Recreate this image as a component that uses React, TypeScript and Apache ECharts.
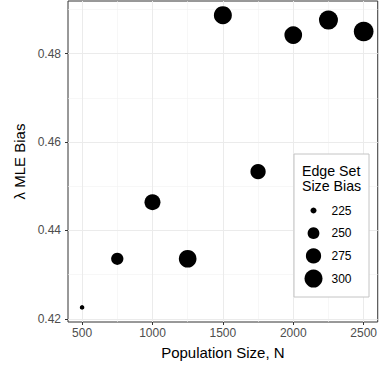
import React, { useEffect, useRef } from "react";
import * as echarts from "echarts";

const popN = [500, 750, 1000, 1250, 1500, 1750, 2000, 2250, 2500];
const mleBias = [0.4226, 0.4336, 0.4464, 0.4336, 0.4887, 0.4533, 0.4842, 0.4876, 0.485];
const edgeBias = [222, 253, 281, 297, 300, 275, 297, 310, 318];

const xMajor = [500, 1000, 1500, 2000, 2500];
const xMinor = [750, 1250, 1750, 2250];
const yMajor = [0.42, 0.44, 0.46, 0.48];
const yMinor = [0.43, 0.45, 0.47, 0.49];
const legendBreaks = [225, 250, 275, 300];
const legendTitle = ["Edge Set", "Size Bias"];

const FONT = "'Liberation Sans', Arial, Helvetica, sans-serif";
const sizeScale = (v: number) => 2 + 16 * Math.sqrt(Math.max(0, v - 220) / 80);

export default function App() {
  const ref = useRef<HTMLDivElement>(null);
  useEffect(() => {
    if (!ref.current) return;
    const chart = echarts.init(ref.current, null, { renderer: "svg" });
    const gridLeft = 68, gridTop = 1, gridRight = 2, gridBottom = 45;
    const lx = 294, ly = 154, lw = 75, lh = 143;
    const graphics: any[] = [
      {
        type: "rect",
        shape: { x: lx, y: ly, width: lw, height: lh },
        style: { fill: "#ffffff", stroke: "#c4c4c4", lineWidth: 1 },
        z: 50,
      },
    ];
    legendTitle.forEach((t, i) => {
      graphics.push({
        type: "text",
        x: lx + 8,
        y: ly + 17 + i * 15,
        style: { text: t, font: `14.2px ${FONT}`, fill: "#000", verticalAlign: "middle" },
        z: 51,
      });
    });
    legendBreaks.forEach((b, i) => {
      const cy = ly + 56.5 + i * 22.7;
      graphics.push({
        type: "circle",
        shape: { cx: lx + 19.5, cy, r: sizeScale(b) / 2 },
        style: { fill: "#000" },
        z: 51,
      });
      graphics.push({
        type: "text",
        x: lx + 37.5,
        y: cy,
        style: { text: String(b), font: `12px ${FONT}`, fill: "#000", verticalAlign: "middle" },
        z: 51,
      });
    });

    const option: any = {
      animation: false,
      backgroundColor: "#ffffff",
      textStyle: { fontFamily: FONT },
      grid: {
        left: gridLeft,
        top: gridTop,
        right: gridRight,
        bottom: gridBottom,
        show: true,
        borderColor: "#333333",
        borderWidth: 1,
        backgroundColor: "#ffffff",
      },
      xAxis: [
        {
          type: "value",
          min: 400,
          max: 2600,
          position: "bottom",
          name: "Population Size, N",
          nameLocation: "middle",
          nameGap: 23,
          nameTextStyle: { fontSize: 15, color: "#000", fontFamily: FONT },
          axisLine: { show: false },
          axisTick: { show: true, length: 3, lineStyle: { color: "#333333" }, customValues: xMajor },
          axisLabel: {
            customValues: xMajor,
            margin: 5,
            fontSize: 12,
            color: "#4d4d4d",
            fontFamily: FONT,
            formatter: (v: number) => String(v),
          },
          splitLine: { show: true, lineStyle: { color: "#ebebeb", width: 1 } },
          z: 1,
        },
        {
          type: "value",
          min: 400,
          max: 2600,
          position: "top",
          axisLine: { show: false },
          axisTick: { show: false, customValues: xMinor },
          axisLabel: { show: false, customValues: xMinor },
          splitLine: { show: true, lineStyle: { color: "#f2f2f2", width: 0.6 } },
          z: 0,
        },
      ],
      yAxis: [
        {
          type: "value",
          min: 0.4193,
          max: 0.4919,
          position: "left",
          name: "λ MLE Bias",
          nameLocation: "middle",
          nameGap: 35,
          nameRotate: 90,
          nameTextStyle: { fontSize: 15, color: "#000", fontFamily: FONT },
          axisLine: { show: false },
          axisTick: { show: true, length: 3, lineStyle: { color: "#333333" }, customValues: yMajor },
          axisLabel: {
            customValues: yMajor,
            margin: 7,
            fontSize: 12,
            color: "#4d4d4d",
            fontFamily: FONT,
            formatter: (v: number) => v.toFixed(2),
          },
          splitLine: { show: true, lineStyle: { color: "#ebebeb", width: 1 } },
          z: 1,
        },
        {
          type: "value",
          min: 0.4193,
          max: 0.4919,
          position: "right",
          axisLine: { show: false },
          axisTick: { show: false, customValues: yMinor },
          axisLabel: { show: false, customValues: yMinor },
          splitLine: { show: true, lineStyle: { color: "#f2f2f2", width: 0.6 } },
          z: 0,
        },
      ],
      series: [
        {
          type: "scatter",
          xAxisIndex: 0,
          yAxisIndex: 0,
          data: popN.map((x, i) => [x, mleBias[i], edgeBias[i]]),
          symbol: "circle",
          symbolSize: (val: number[]) => sizeScale(val[2]),
          itemStyle: { color: "#000000", opacity: 1 },
          z: 10,
        },
      ],
      graphic: graphics,
    };
    chart.setOption(option);
    return () => chart.dispose();
  }, []);
  return <div ref={ref} style={{ width: 380, height: 367, position: "absolute", left: 0, top: 0 }} />;
}
